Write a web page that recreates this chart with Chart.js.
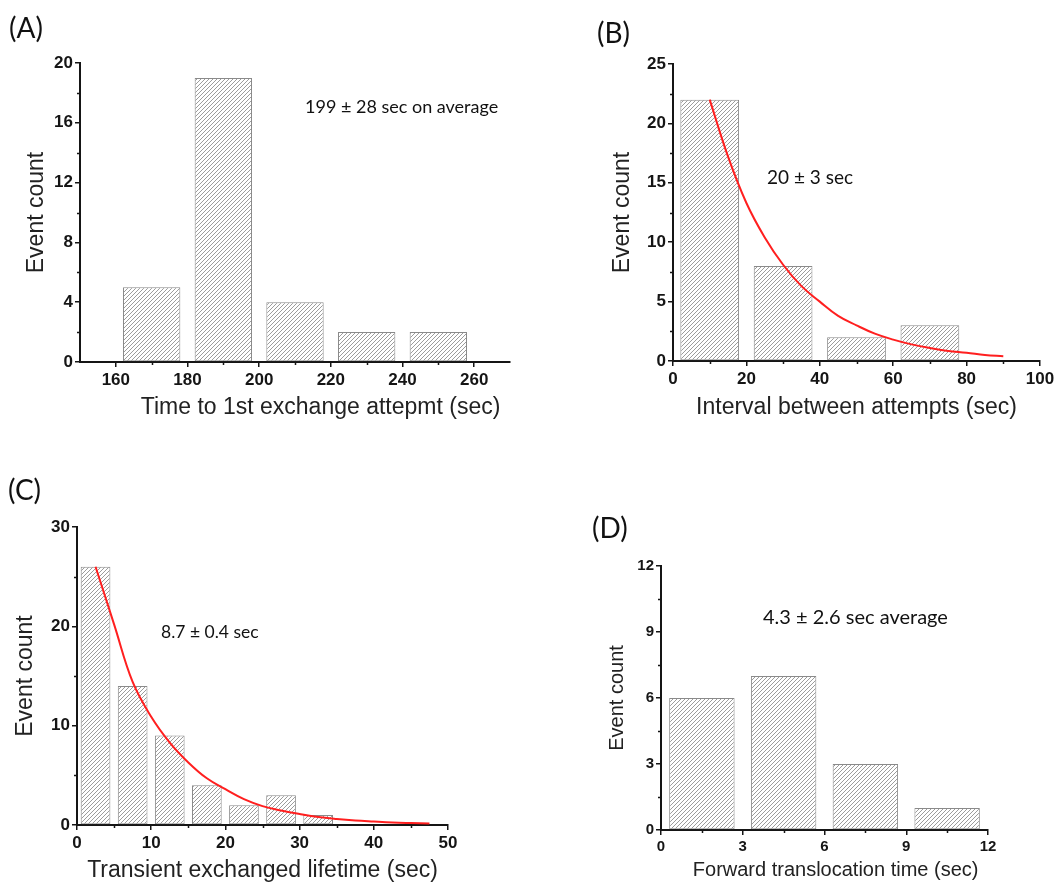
<!DOCTYPE html>
<html>
<head>
<meta charset="utf-8">
<script src="https://cdn.jsdelivr.net/npm/chart.js@4"></script>
<style>
  body { margin: 0; background: #fff; width: 1059px; height: 882px; overflow: hidden; position: relative; }
  .panel { position: absolute; }
  .note { position: absolute; font-family: Lato, "Open Sans", sans-serif; color: #111; white-space: nowrap; line-height: 1; transform: translateY(-50%); }
  .letter { font-size: 28px; }
</style>
</head>
<body>

<div class="panel" style="left:0px;top:40px;"><canvas id="chartA" width="540" height="400"></canvas></div>
<div class="panel" style="left:540px;top:40px;"><canvas id="chartB" width="519" height="400"></canvas></div>
<div class="panel" style="left:0px;top:480px;"><canvas id="chartC" width="540" height="402"></canvas></div>
<div class="panel" style="left:540px;top:480px;"><canvas id="chartD" width="519" height="402"></canvas></div>

<div class="note letter" style="left:9px;top:27px;">(A)</div>
<div class="note letter" style="left:597px;top:32px;">(B)</div>
<div class="note letter" style="left:8px;top:489px;">(C)</div>
<div class="note letter" style="left:592px;top:527px;">(D)</div>

<div class="note" style="left:305px;top:106px;font-size:18px;">199 ± 28 sec on average</div>
<div class="note" style="left:767px;top:176px;font-size:19px;">20 ± 3 sec</div>
<div class="note" style="left:161px;top:632px;font-size:17.5px;">8.7 ± 0.4 sec</div>
<div class="note" style="left:763px;top:616px;font-size:20px;">4.3 ± 2.6 sec average</div>

<script>
// (A) time to first exchange attempt
var binsA = [170, 190, 210, 230, 250];
var countsA = [5, 19, 4, 2, 2];
var ticksAx = [160, 180, 200, 220, 240, 260];
var ticksAy = [0, 4, 8, 12, 16, 20];

// (B) interval between attempts, with exponential fit
var binsB = [10, 30, 50, 70];
var countsB = [22, 8, 2, 3];
var fitBx = [10, 15, 20, 25, 30, 35, 40, 45, 50, 55, 60, 65, 70, 75, 80, 85, 90];
var fitBy = [22, 17.2, 13.3, 10.4, 8.1, 6.3, 5.0, 3.8, 3.0, 2.3, 1.8, 1.4, 1.1, 0.85, 0.7, 0.5, 0.4];
var ticksBx = [0, 20, 40, 60, 80, 100];
var ticksBy = [0, 5, 10, 15, 20, 25];

// (C) transient exchanged lifetime, with exponential fit
var binsC = [2.5, 7.5, 12.5, 17.5, 22.5, 27.5, 32.5];
var countsC = [26, 14, 9, 4, 2, 3, 1];
var fitCx = [2.5, 5, 7.5, 10, 12.5, 15, 17.5, 20, 22.5, 25, 27.5, 30, 32.5, 35, 37.5, 40, 42.5, 45, 47.5];
var fitCy = [26, 20.2, 14.4, 10.9, 8.3, 6.3, 4.7, 3.6, 2.6, 1.9, 1.45, 1.1, 0.8, 0.6, 0.45, 0.35, 0.26, 0.2, 0.15];
var ticksCx = [0, 10, 20, 30, 40, 50];
var ticksCy = [0, 10, 20, 30];

// (D) forward translocation time
var binsD = [1.5, 4.5, 7.5, 10.5];
var countsD = [6, 7, 3, 1];
var ticksDx = [0, 3, 6, 9, 12];
var ticksDy = [0, 3, 6, 9, 12];

var AXIS = '#151515';
var FONT = '"Liberation Sans", Arial, sans-serif';

// diagonal hatch fill like the original histogram bars
function hatch() {
    var c = document.createElement('canvas');
    c.width = 4;
    c.height = 4;
    var g = c.getContext('2d');
    g.fillStyle = '#ffffff';
    g.fillRect(0, 0, 4, 4);
    g.strokeStyle = '#9c9c9c';
    g.lineWidth = 1;
    g.beginPath();
    g.moveTo(0, 4); g.lineTo(4, 0);
    g.moveTo(-1, 1); g.lineTo(1, -1);
    g.moveTo(3, 5); g.lineTo(5, 3);
    g.stroke();
    return g.createPattern(c, 'repeat');
}

// short unlabeled ticks between the major ones
var minorTicks = {
    id: 'minorTicks',
    afterDraw: function (chart, args, opts) {
        var ctx = chart.ctx;
        var xs = chart.scales.x, ys = chart.scales.y;
        var area = chart.chartArea;
        var isMajor = function (scale, v) {
            return scale.ticks.some(function (t) { return Math.abs(t.value - v) < 1e-6; });
        };
        ctx.save();
        ctx.strokeStyle = AXIS;
        ctx.lineWidth = 1.5;
        ctx.beginPath();
        for (var v = xs.min + opts.x; v < xs.max - 1e-6; v += opts.x) {
            if (isMajor(xs, v)) continue;
            var px = Math.round(xs.getPixelForValue(v)) + 0.5;
            ctx.moveTo(px, area.bottom);
            ctx.lineTo(px, area.bottom + opts.len);
        }
        for (var w = ys.min + opts.y; w < ys.max - 1e-6; w += opts.y) {
            if (isMajor(ys, w)) continue;
            var py = Math.round(ys.getPixelForValue(w)) + 0.5;
            ctx.moveTo(area.left, py);
            ctx.lineTo(area.left - opts.len, py);
        }
        ctx.stroke();
        ctx.restore();
    }
};

function makeChart(id, p) {
    var datasets = [];
    if (p.fitX) {
        datasets.push({
            type: 'line',
            data: p.fitX.map(function (x, i) { return { x: x, y: p.fitY[i] }; }),
            borderColor: '#ff1f1f',
            borderWidth: 2,
            pointRadius: 0,
            tension: 0.4,
            fill: false,
            order: 0
        });
    }
    datasets.push({
        type: 'bar',
        data: p.bins.map(function (x, i) { return { x: x, y: p.counts[i] }; }),
        backgroundColor: hatch(),
        borderColor: '#8a8a8a',
        borderWidth: 1,
        borderSkipped: false,
        barPercentage: 0.8,
        categoryPercentage: 1,
        order: 1
    });

    var gridOpts = { display: true, drawOnChartArea: false, drawTicks: true, tickLength: 5, color: AXIS, lineWidth: 1.5, offset: false };
    var tickFont = { family: FONT, size: p.tickSize, weight: 'bold' };
    var titleFont = { family: FONT, size: p.titleSize, lineHeight: 1 };

    return new Chart(document.getElementById(id), {
        type: 'bar',
        data: { datasets: datasets },
        options: {
            responsive: false,
            animation: false,
            layout: { padding: p.pad },
            plugins: {
                legend: { display: false },
                tooltip: { enabled: false },
                minorTicks: { x: p.minorX, y: p.minorY, len: 3 }
            },
            scales: {
                x: {
                    type: 'linear',
                    min: p.xMin,
                    max: p.xMax,
                    offset: false,
                    afterBuildTicks: function (s) { s.ticks = p.ticksX.map(function (v) { return { value: v }; }); },
                    afterFit: function (s) { s.height = p.xH; },
                    grid: gridOpts,
                    border: { display: true, color: AXIS, width: 2 },
                    ticks: { font: tickFont, color: AXIS, padding: 3, maxRotation: 0, autoSkip: false },
                    title: { display: true, text: p.xTitle, font: titleFont, color: '#222', padding: { top: 0, bottom: p.xTitlePad } }
                },
                y: {
                    type: 'linear',
                    min: p.yMin,
                    max: p.yMax,
                    afterBuildTicks: function (s) { s.ticks = p.ticksY.map(function (v) { return { value: v }; }); },
                    afterFit: function (s) { s.width = p.yW; },
                    grid: gridOpts,
                    border: { display: true, color: AXIS, width: 2 },
                    ticks: { font: tickFont, color: AXIS, padding: 2, autoSkip: false },
                    title: { display: true, text: 'Event count', font: titleFont, color: '#222', padding: { top: p.yTitlePad, bottom: 0 } }
                }
            }
        },
        plugins: [minorTicks]
    });
}

makeChart('chartA', {
    bins: binsA, counts: countsA, ticksX: ticksAx, ticksY: ticksAy,
    xMin: 150, xMax: 270, yMin: 0, yMax: 20, minorX: 10, minorY: 2,
    xTitle: '        Time to 1st exchange attepmt (sec)',
    pad: { left: 0, top: 23, right: 30, bottom: 8 }, xH: 70, yW: 80,
    tickSize: 17, titleSize: 23, xTitlePad: 13, yTitlePad: 25
});

makeChart('chartB', {
    bins: binsB, counts: countsB, fitX: fitBx, fitY: fitBy, ticksX: ticksBx, ticksY: ticksBy,
    xMin: 0, xMax: 100, yMin: 0, yMax: 25, minorX: 10, minorY: 2.5,
    xTitle: 'Interval between attempts (sec)',
    pad: { left: 0, top: 24, right: 19, bottom: 8 }, xH: 71, yW: 133,
    tickSize: 17, titleSize: 23, xTitlePad: 13, yTitlePad: 71
});

makeChart('chartC', {
    bins: binsC, counts: countsC, fitX: fitCx, fitY: fitCy, ticksX: ticksCx, ticksY: ticksCy,
    xMin: 0, xMax: 50, yMin: 0, yMax: 30, minorX: 5, minorY: 5,
    xTitle: 'Transient exchanged lifetime (sec)',
    pad: { left: 0, top: 47, right: 92, bottom: 0 }, xH: 57, yW: 77,
    tickSize: 17, titleSize: 23, xTitlePad: 0, yTitlePad: 14
});

makeChart('chartD', {
    bins: binsD, counts: countsD, ticksX: ticksDx, ticksY: ticksDy,
    xMin: 0, xMax: 12, yMin: 0, yMax: 12, minorX: 1.5, minorY: 1.5,
    xTitle: '    Forward translocation time (sec)',
    pad: { left: 0, top: 86, right: 71, bottom: 0 }, xH: 52, yW: 121,
    tickSize: 15, titleSize: 20, xTitlePad: 2, yTitlePad: 67
});
</script>
</body>
</html>
